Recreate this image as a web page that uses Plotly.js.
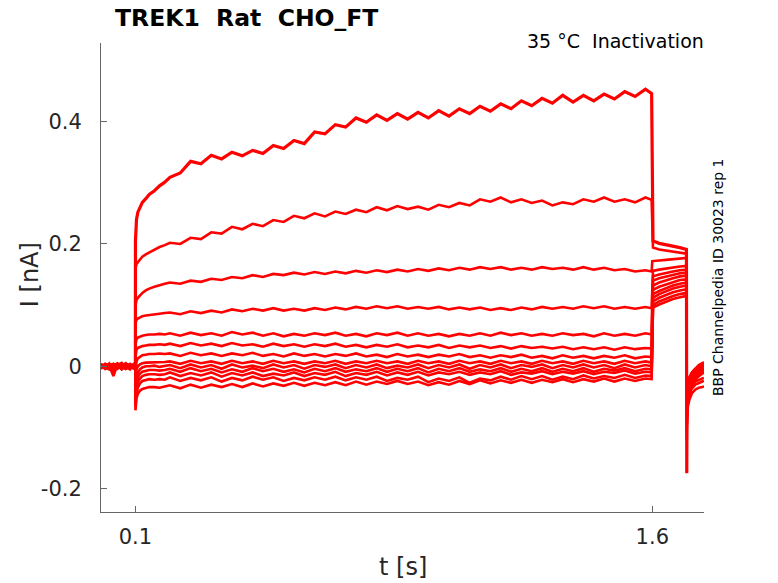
<!DOCTYPE html>
<html>
<head>
<meta charset="utf-8">
<script src="https://cdn.plot.ly/plotly-3.0.1.min.js"></script>
<style>html,body{margin:0;padding:0;background:#fff;}#plot{width:778px;height:583px;}</style>
</head>
<body>
<div id="plot"></div>
<script>
// time samples [s]
var tBase = [0,0.012,0.024,0.036,0.048,0.06,0.072,0.084,0.096,0.0998];
var tOnset = [0.1,0.1006,0.103,0.107,0.113,0.12,0.13,0.14,0.155,0.17,0.185];
var tStep = [0.2,0.23,0.26,0.29,0.32,0.35,0.38,0.41,
  0.44,0.47,0.5,0.53,0.56,0.59,0.62,0.65,
  0.68,0.71,0.74,0.77,0.8,0.83,0.86,0.89,
  0.92,0.95,0.98,1.01,1.04,1.07,1.1,1.13,
  1.16,1.19,1.22,1.25,1.28,1.31,1.34,1.37,
  1.4,1.43,1.46,1.49,1.52,1.55,1.58,1.598];
var tTail = [1.6,1.602,1.62,1.64,1.66,1.68,1.699];
var tAfter = [1.7,1.7006,1.703,1.708,1.715,1.725,1.735,1.745,1.75];

// current traces [nA], one per sweep
var sweepA = {
  base:[0.003,-0.002,0.004,-0.006,0.001,0.005,-0.003,0.002,-0.001,0.002],
  onset:[0.205,0.225,0.24,0.252,0.26,0.268,0.274,0.281,0.287,0.295,0.301],
  step:[0.309,0.316,0.335,0.331,0.345,0.339,0.35,0.344,
    0.353,0.348,0.361,0.356,0.369,0.364,0.383,0.38,
    0.395,0.391,0.406,0.399,0.411,0.402,0.413,0.404,
    0.415,0.406,0.418,0.409,0.421,0.413,0.425,0.417,
    0.429,0.421,0.434,0.426,0.438,0.43,0.443,0.432,
    0.443,0.434,0.445,0.437,0.449,0.441,0.453,0.446],
  tail:[0.207,0.205,0.201,0.199,0.196,0.194,0.191],
  after:[-0.175,-0.082,-0.06,-0.042,-0.028,-0.018,-0.012,-0.008,-0.006]
};
var sweepB = {
  base:[-0.002,0.003,-0.004,0.002,0.005,-0.003,0.001,-0.005,0.003,0.0],
  onset:[0.16,0.163,0.167,0.17,0.175,0.179,0.183,0.186,0.19,0.195,0.198],
  step:[0.202,0.2,0.21,0.208,0.219,0.217,0.228,0.224,
    0.233,0.229,0.239,0.236,0.246,0.242,0.25,0.245,
    0.253,0.249,0.256,0.252,0.26,0.255,0.262,0.257,
    0.261,0.256,0.264,0.26,0.267,0.263,0.273,0.269,
    0.276,0.268,0.273,0.267,0.271,0.263,0.268,0.265,
    0.273,0.269,0.276,0.269,0.273,0.268,0.276,0.272],
  tail:[0.195,0.194,0.191,0.189,0.187,0.186,0.184],
  after:[-0.12,-0.075,-0.06,-0.045,-0.032,-0.022,-0.016,-0.012,-0.01]
};
var sweepC = {
  base:[0.001,-0.004,0.002,0.004,-0.002,0.0,0.005,-0.001,-0.004,0.001],
  onset:[0.1,0.104,0.108,0.112,0.116,0.12,0.124,0.127,0.13,0.133,0.135],
  step:[0.137,0.135,0.14,0.138,0.143,0.141,0.146,0.144,
    0.149,0.146,0.151,0.149,0.153,0.15,0.154,0.151,
    0.155,0.152,0.156,0.153,0.157,0.154,0.158,0.155,
    0.159,0.156,0.16,0.157,0.161,0.158,0.162,0.159,
    0.162,0.158,0.161,0.158,0.162,0.159,0.161,0.158,
    0.162,0.158,0.161,0.157,0.159,0.155,0.157,0.155],
  tail:[0.172,0.172,0.173,0.174,0.175,0.176,0.177],
  after:[-0.1,-0.068,-0.055,-0.042,-0.03,-0.02,-0.014,-0.01,-0.008]
};
var sweepD = {
  base:[-0.003,0.002,0.0,-0.005,0.003,-0.001,0.004,0.0,0.002,-0.002],
  onset:[0.07,0.073,0.076,0.078,0.08,0.082,0.083,0.084,0.085,0.086,0.087],
  step:[0.088,0.085,0.09,0.087,0.091,0.088,0.093,0.09,
    0.094,0.091,0.095,0.091,0.094,0.091,0.095,0.092,
    0.096,0.093,0.097,0.094,0.098,0.095,0.098,0.094,
    0.097,0.094,0.097,0.093,0.096,0.093,0.096,0.092,
    0.095,0.092,0.096,0.093,0.097,0.094,0.097,0.094,
    0.098,0.095,0.098,0.094,0.097,0.094,0.097,0.095],
  tail:[0.155,0.156,0.158,0.16,0.162,0.163,0.164],
  after:[-0.09,-0.06,-0.048,-0.036,-0.026,-0.017,-0.011,-0.007,-0.005]
};
var sweepE = {
  base:[0.002,-0.001,-0.004,0.003,0.0,0.004,-0.002,-0.004,0.001,0.003],
  onset:[0.035,0.04,0.044,0.047,0.049,0.05,0.051,0.052,0.052,0.053,0.052],
  step:[0.054,0.05,0.055,0.051,0.054,0.05,0.056,0.052,
    0.055,0.05,0.054,0.049,0.053,0.05,0.054,0.051,
    0.055,0.05,0.053,0.049,0.054,0.051,0.055,0.05,
    0.054,0.05,0.053,0.049,0.053,0.05,0.054,0.05,
    0.055,0.051,0.054,0.05,0.053,0.05,0.054,0.051,
    0.053,0.049,0.054,0.05,0.053,0.05,0.054,0.052],
  tail:[0.145,0.147,0.15,0.153,0.155,0.157,0.158],
  after:[-0.08,-0.052,-0.042,-0.032,-0.022,-0.014,-0.008,-0.004,-0.002]
};
var sweepF = {
  base:[-0.001,0.004,0.001,-0.003,0.002,-0.005,0.003,0.001,-0.003,0.0],
  onset:[0.015,0.022,0.027,0.03,0.032,0.033,0.034,0.035,0.035,0.036,0.035],
  step:[0.037,0.033,0.038,0.034,0.037,0.033,0.038,0.034,
    0.036,0.032,0.037,0.033,0.036,0.032,0.036,0.033,
    0.037,0.032,0.035,0.031,0.035,0.032,0.036,0.031,
    0.034,0.031,0.035,0.03,0.034,0.031,0.034,0.03,
    0.033,0.029,0.033,0.03,0.032,0.029,0.032,0.028,
    0.031,0.028,0.031,0.027,0.031,0.028,0.03,0.029],
  tail:[0.138,0.14,0.144,0.147,0.15,0.152,0.153],
  after:[-0.07,-0.045,-0.036,-0.027,-0.018,-0.01,-0.005,-0.001,0.001]
};
var sweepG = {
  base:[0.003,0.0,-0.003,0.001,0.004,0.001,-0.004,0.002,0.0,-0.001],
  onset:[-0.01,0.0,0.008,0.013,0.016,0.018,0.019,0.02,0.02,0.021,0.02],
  step:[0.021,0.017,0.022,0.018,0.021,0.017,0.021,0.018,
    0.022,0.017,0.02,0.016,0.021,0.017,0.02,0.016,
    0.02,0.017,0.021,0.016,0.019,0.015,0.02,0.016,
    0.019,0.015,0.019,0.016,0.02,0.015,0.018,0.014,
    0.018,0.015,0.019,0.014,0.017,0.013,0.018,0.014,
    0.017,0.013,0.017,0.014,0.018,0.013,0.016,0.015],
  tail:[0.13,0.132,0.137,0.141,0.144,0.147,0.148],
  after:[-0.065,-0.04,-0.032,-0.024,-0.016,-0.009,-0.004,0.0,0.002]
};
var sweepH = {
  base:[-0.002,0.003,0.0,-0.004,0.002,0.005,-0.002,0.0,0.003,-0.003],
  onset:[-0.03,-0.015,-0.005,0.0,0.003,0.005,0.006,0.006,0.007,0.006,0.007],
  step:[0.008,0.004,0.009,0.005,0.008,0.004,0.009,0.005,
    0.008,0.004,0.009,0.005,0.008,0.004,0.008,0.005,
    0.009,0.004,0.008,0.005,0.009,0.005,0.008,0.004,
    0.009,0.005,0.008,0.004,0.009,0.005,0.008,0.004,
    0.009,0.005,0.008,0.004,0.009,0.005,0.008,0.004,
    0.009,0.005,0.008,0.004,0.009,0.005,0.008,0.006],
  tail:[0.122,0.125,0.13,0.134,0.138,0.141,0.142],
  after:[-0.06,-0.036,-0.029,-0.021,-0.013,-0.006,-0.001,0.003,0.005]
};
var sweepI = {
  base:[0.004,-0.003,0.002,0.001,-0.004,0.002,0.003,-0.002,-0.001,0.002],
  onset:[-0.045,-0.03,-0.018,-0.01,-0.005,-0.002,0.0,0.0,0.001,-0.001,0.0],
  step:[0.002,-0.003,0.003,-0.002,0.002,-0.004,0.003,-0.002,
    0.001,-0.003,0.003,-0.002,0.002,-0.004,0.002,-0.001,
    0.003,-0.003,0.002,-0.002,0.003,-0.003,0.001,-0.002,
    0.003,-0.003,0.002,-0.002,0.003,-0.004,0.002,-0.002,
    0.003,-0.003,0.002,-0.001,0.003,-0.003,0.002,-0.002,
    0.003,-0.002,0.002,-0.003,0.003,-0.002,0.002,0.0],
  tail:[0.115,0.118,0.123,0.128,0.132,0.135,0.137],
  after:[-0.055,-0.031,-0.025,-0.018,-0.01,-0.004,0.002,0.005,0.007]
};
var sweepJ = {
  base:[-0.004,0.001,0.003,-0.002,-0.003,0.001,0.0,0.004,-0.003,0.001],
  onset:[-0.055,-0.04,-0.028,-0.018,-0.012,-0.009,-0.007,-0.006,-0.006,-0.007,-0.006],
  step:[-0.004,-0.009,-0.003,-0.008,-0.004,-0.01,-0.005,-0.009,
    -0.003,-0.008,-0.004,-0.009,-0.005,-0.01,-0.004,-0.008,
    -0.003,-0.009,-0.005,-0.008,-0.003,-0.009,-0.004,-0.008,
    -0.003,-0.01,-0.004,-0.008,-0.003,-0.009,-0.005,-0.008,
    -0.003,-0.009,-0.004,-0.008,-0.003,-0.009,-0.004,-0.008,
    -0.003,-0.009,-0.004,-0.007,-0.003,-0.008,-0.004,-0.005],
  tail:[0.108,0.112,0.118,0.123,0.127,0.13,0.132],
  after:[-0.05,-0.027,-0.022,-0.016,-0.01,-0.004,0.0,0.003,0.004]
};
var sweepK = {
  base:[0.001,-0.002,-0.005,0.003,0.001,-0.003,0.002,-0.001,0.004,-0.002],
  onset:[-0.06,-0.048,-0.036,-0.026,-0.02,-0.016,-0.014,-0.013,-0.013,-0.014,-0.013],
  step:[-0.01,-0.016,-0.011,-0.015,-0.01,-0.017,-0.011,-0.015,
    -0.01,-0.016,-0.012,-0.015,-0.01,-0.016,-0.011,-0.014,
    -0.009,-0.016,-0.011,-0.014,-0.009,-0.015,-0.01,-0.014,
    -0.009,-0.015,-0.01,-0.013,-0.009,-0.014,-0.01,-0.013,
    -0.008,-0.014,-0.01,-0.012,-0.008,-0.013,-0.009,-0.012,
    -0.008,-0.013,-0.009,-0.011,-0.007,-0.012,-0.009,-0.01],
  tail:[0.102,0.106,0.112,0.117,0.121,0.124,0.126],
  after:[-0.075,-0.058,-0.048,-0.038,-0.03,-0.025,-0.022,-0.02,-0.019]
};
var sweepL = {
  base:[-0.003,0.002,-0.001,0.004,-0.002,0.0,-0.004,0.003,0.001,-0.002],
  onset:[-0.065,-0.055,-0.045,-0.035,-0.028,-0.024,-0.022,-0.021,-0.022,-0.021,-0.022],
  step:[-0.018,-0.024,-0.019,-0.023,-0.018,-0.025,-0.019,-0.023,
    -0.017,-0.022,-0.018,-0.024,-0.019,-0.023,-0.018,-0.022,
    -0.017,-0.023,-0.018,-0.022,-0.017,-0.024,-0.019,-0.022,
    -0.017,-0.026,-0.02,-0.024,-0.018,-0.027,-0.02,-0.023,
    -0.017,-0.022,-0.016,-0.021,-0.016,-0.022,-0.017,-0.021,
    -0.015,-0.02,-0.016,-0.019,-0.014,-0.019,-0.015,-0.016],
  tail:[0.098,0.1,0.106,0.111,0.115,0.118,0.12],
  after:[-0.085,-0.066,-0.055,-0.045,-0.036,-0.03,-0.027,-0.025,-0.024]
};
var sweepM = {
  base:[0.002,-0.004,0.001,-0.016,0.003,-0.005,0.0,-0.003,0.002,0.0],
  onset:[-0.072,-0.062,-0.052,-0.045,-0.04,-0.037,-0.035,-0.034,-0.034,-0.035,-0.033],
  step:[-0.031,-0.036,-0.03,-0.035,-0.03,-0.034,-0.029,-0.034,
    -0.028,-0.033,-0.028,-0.032,-0.027,-0.032,-0.027,-0.031,
    -0.026,-0.031,-0.025,-0.03,-0.025,-0.029,-0.024,-0.029,
    -0.025,-0.031,-0.026,-0.03,-0.024,-0.029,-0.023,-0.028,
    -0.023,-0.027,-0.022,-0.027,-0.022,-0.026,-0.021,-0.026,
    -0.021,-0.025,-0.02,-0.025,-0.02,-0.024,-0.02,-0.021],
  tail:[0.094,0.096,0.101,0.106,0.11,0.113,0.115],
  after:[-0.095,-0.078,-0.065,-0.054,-0.044,-0.038,-0.035,-0.034,-0.033]
};

var sweeps = [sweepM,sweepL,sweepK,sweepJ,sweepI,sweepH,sweepG,sweepF,sweepE,sweepD,sweepC,sweepB,sweepA];
var xTickVals = [0.1,1.6];
var xTickText = ['0.1','1.6'];
var yTickVals = [-0.2,0,0.2,0.4];
var yTickText = ['-0.2','0','0.2','0.4'];

var tAll = [].concat(tBase,tOnset,tStep,tTail,tAfter);
var traces = sweeps.map(function(s, i){
  return {
    x: tAll,
    y: [].concat(s.base,s.onset,s.step,s.tail,s.after),
    type:'scatter', mode:'lines',
    line:{color:'#ff0000', width:(i === sweeps.length-1 ? 3.2 : 2.6), shape:'linear'},
    hoverinfo:'skip', showlegend:false
  };
});

var F = 'DejaVu Sans, Liberation Sans, sans-serif';
var layout = {
  width:778, height:583,
  margin:{l:101, r:74, t:43, b:71, pad:0},
  paper_bgcolor:'#fff', plot_bgcolor:'#fff',
  showlegend:false,
  xaxis:{
    range:[0,1.75], showgrid:false, zeroline:false,
    showline:true, linecolor:'#666', linewidth:1,
    ticks:'inside', ticklen:6, tickcolor:'#666', tickwidth:1,
    tickvals:xTickVals, ticktext:xTickText,
    tickfont:{family:F, size:21, color:'#262626'},
    ticklabelstandoff:6
  },
  yaxis:{
    range:[-0.2382,0.5285], showgrid:false, zeroline:false,
    showline:true, linecolor:'#666', linewidth:1,
    ticks:'inside', ticklen:6, tickcolor:'#666', tickwidth:1,
    tickvals:yTickVals, ticktext:yTickText,
    tickfont:{family:F, size:21, color:'#262626'},
    ticklabelstandoff:14
  },
  annotations:[
    {text:'<b>TREK1  Rat  CHO_FT</b>', xref:'paper', yref:'paper', x:0.0199, y:1.0533,
     xanchor:'left', yanchor:'middle', showarrow:false, font:{family:F, size:23.5, color:'#000'}},
    {text:'35 °C  Inactivation', xref:'paper', yref:'paper', x:1.003, y:1.0043,
     xanchor:'right', yanchor:'middle', showarrow:false, font:{family:F, size:19, color:'#000'}},
    {text:'BBP Channelpedia ID 30023 rep 1', xref:'paper', yref:'paper', x:1.0224, y:0.5,
     xanchor:'center', yanchor:'middle', textangle:-90, showarrow:false, font:{family:F, size:14, color:'#000'}},
    {text:'I [nA]', xref:'paper', yref:'paper', x:-0.1177, y:0.505,
     xanchor:'center', yanchor:'middle', textangle:-90, showarrow:false, font:{family:F, size:24, color:'#262626'}},
    {text:'t [s]', xref:'paper', yref:'paper', x:0.5008, y:-0.1173,
     xanchor:'center', yanchor:'middle', showarrow:false, font:{family:F, size:24, color:'#262626'}}
  ]
};
Plotly.newPlot('plot', traces, layout, {displayModeBar:false, staticPlot:true});
</script>
</body>
</html>
